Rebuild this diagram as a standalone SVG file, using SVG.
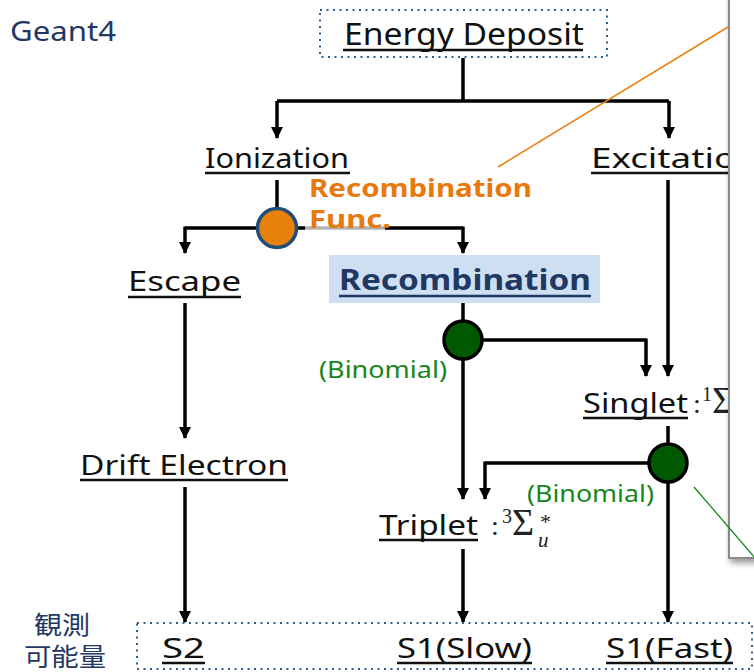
<svg xmlns="http://www.w3.org/2000/svg" width="754" height="672" viewBox="0 0 754 672">
<defs>
<style>
.t{font-family:"Noto Sans","Liberation Sans",sans-serif;font-size:28px;fill:#111}
.ul{stroke:#111;stroke-width:2.5}
.c{fill:none;stroke:#000;stroke-width:3.5}
.ca{fill:none;stroke:#000;stroke-width:3.5;marker-end:url(#ah)}
.m{font-family:"Liberation Serif","DejaVu Serif",serif;fill:#222}
.bin{font-family:"Noto Sans","Liberation Sans",sans-serif;font-size:24px;fill:#17871a}
.jp{font-family:"Noto Sans CJK JP",sans-serif;font-size:25px;fill:#1f3864}
.dot{fill:none;stroke:#2f5f8f;stroke-width:2;stroke-dasharray:2 4.5}
</style>
<marker id="ah" viewBox="0 0 12 12" refX="11" refY="6" markerWidth="12" markerHeight="12" markerUnits="userSpaceOnUse" orient="auto"><path d="M0,0 L12,6 L0,12 z" fill="#000"/></marker>
<filter id="sh" x="-10%" y="-10%" width="130%" height="130%"><feDropShadow dx="2" dy="4" stdDeviation="3" flood-color="#000" flood-opacity="0.4"/></filter>
</defs>
<rect width="754" height="672" fill="#fff"/>

<text x="10" y="41" style="font-family:'Noto Sans','Liberation Sans',sans-serif;font-size:28px;fill:#1f3864" textLength="106" lengthAdjust="spacingAndGlyphs">Geant4</text>

<g id="connectors">
<path class="c" d="M463,58 V101 M277,101 H669"/>
<path class="ca" d="M277,101 V138"/>
<path class="ca" d="M669,101 V138"/>
<path class="c" d="M277,180 V208"/>
<path class="c" d="M185,228 H463"/>
<path class="ca" d="M185,226.5 V253"/>
<path class="ca" d="M463,226.5 V253"/>
<path class="ca" d="M185,303 V438"/>
<path class="ca" d="M185,487 V622"/>
<path class="c" d="M463,303 V322"/>
<path class="c" d="M463,340 H646"/>
<path class="ca" d="M646,338.5 V376"/>
<path class="ca" d="M463,358 V499"/>
<path class="ca" d="M668,180 V376"/>
<path class="c" d="M668,426 V445"/>
<path class="c" d="M668,463 H485"/>
<path class="ca" d="M485,461.5 V499"/>
<path class="ca" d="M668,481 V622"/>
<path class="ca" d="M463,549 V622"/>
</g>

<g id="energy-deposit">
<rect class="dot" x="320" y="10" width="287" height="47"/>
<text class="t" x="344" y="45" style="font-size:31px" textLength="240" lengthAdjust="spacingAndGlyphs">Energy Deposit</text>
<line class="ul" x1="343" y1="50" x2="583" y2="50"/>
</g>

<g id="ionization">
<text class="t" x="205" y="168" textLength="144" lengthAdjust="spacingAndGlyphs">Ionization</text>
<line class="ul" x1="205" y1="173" x2="350" y2="173"/>
</g>

<g id="excitation">
<text class="t" x="591" y="168" textLength="168" lengthAdjust="spacingAndGlyphs">Excitation</text>
<line class="ul" x1="591" y1="173" x2="760" y2="173"/>
</g>

<g id="recomb-func">
<circle cx="277" cy="228" r="19.5" fill="#e8800c" stroke="#1f4e79" stroke-width="3.5"/>
<rect x="305" y="210" width="80" height="24" fill="#fff" opacity="0.7"/>
<text x="309" y="197" style="font-family:'Noto Sans','Liberation Sans',sans-serif;font-size:25px;font-weight:bold;fill:#e8790c" textLength="223" lengthAdjust="spacingAndGlyphs">Recombination</text>
<text x="309" y="228" style="font-family:'Noto Sans','Liberation Sans',sans-serif;font-size:25px;font-weight:bold;fill:#e8790c" textLength="82" lengthAdjust="spacingAndGlyphs">Func.</text>
</g>

<g id="escape">
<text class="t" x="128" y="291" textLength="113" lengthAdjust="spacingAndGlyphs">Escape</text>
<line class="ul" x1="128" y1="297" x2="241" y2="297"/>
</g>

<g id="recombination">
<rect x="329" y="255" width="271" height="48" fill="#cfdff2"/>
<text x="339" y="290" style="font-family:'Noto Sans','Liberation Sans',sans-serif;font-size:29px;font-weight:bold;fill:#1f3864" textLength="252" lengthAdjust="spacingAndGlyphs">Recombination</text>
<line x1="339" y1="296" x2="591" y2="296" stroke="#1f3864" stroke-width="2.5"/>
</g>

<g id="drift-electron">
<text class="t" x="80" y="475" textLength="208" lengthAdjust="spacingAndGlyphs">Drift Electron</text>
<line class="ul" x1="80" y1="480" x2="288" y2="480"/>
</g>

<g id="binomial-1">
<circle cx="463" cy="340" r="19" fill="#005800" stroke="#000" stroke-width="3.5"/>
<text class="bin" x="319" y="378" textLength="128" lengthAdjust="spacingAndGlyphs">(Binomial)</text>
</g>

<g id="singlet">
<text class="t" x="583" y="413" textLength="105" lengthAdjust="spacingAndGlyphs">Singlet</text>
<line class="ul" x1="583" y1="418" x2="688" y2="418"/>
<text class="m" x="693" y="413" style="font-size:28px">:</text>
<text class="m" x="702" y="401" style="font-size:20px">1</text>
<text class="m" x="712" y="413" style="font-size:38px">Σ</text>
</g>

<g id="binomial-2">
<circle cx="668" cy="463" r="19" fill="#005800" stroke="#000" stroke-width="3.5"/>
<text class="bin" x="527" y="502" textLength="127" lengthAdjust="spacingAndGlyphs">(Binomial)</text>
</g>

<g id="triplet">
<text class="t" x="379" y="535" textLength="99" lengthAdjust="spacingAndGlyphs">Triplet</text>
<line class="ul" x1="379" y1="540" x2="478" y2="540"/>
<text class="m" x="491" y="535" style="font-size:28px">:</text>
<text class="m" x="502" y="523" style="font-size:20px">3</text>
<text class="m" x="512" y="535" style="font-size:38px">Σ</text>
<text class="m" x="540" y="529" style="font-size:22px">*</text>
<text class="m" x="538" y="547" style="font-size:21px;font-style:italic">u</text>
</g>

<g id="observables">
<rect class="dot" x="137" y="623" width="615" height="46"/>
<text class="jp" x="34" y="634" textLength="56" lengthAdjust="spacingAndGlyphs">観測</text>
<text class="jp" x="24" y="666" textLength="82" lengthAdjust="spacingAndGlyphs">可能量</text>
</g>
<g id="s2">
<text class="t" x="162" y="658" textLength="43" lengthAdjust="spacingAndGlyphs">S2</text>
<line class="ul" x1="162" y1="663" x2="205" y2="663"/>
</g>
<g id="s1-slow">
<text class="t" x="397" y="658" textLength="135" lengthAdjust="spacingAndGlyphs">S1(Slow)</text>
<line class="ul" x1="397" y1="663" x2="532" y2="663"/>
</g>
<g id="s1-fast">
<text class="t" x="606" y="658" textLength="127" lengthAdjust="spacingAndGlyphs">S1(Fast)</text>
<line class="ul" x1="606" y1="663" x2="733" y2="663"/>
</g>

<g id="overlay">
<rect x="729" y="-10" width="40" height="568" fill="#fff" stroke="#8a8a8a" stroke-width="2" filter="url(#sh)"/>
</g>
<line x1="498" y1="167" x2="728" y2="27" stroke="#e8800c" stroke-width="1.5"/>
<line x1="694" y1="487" x2="756" y2="559" stroke="#17871a" stroke-width="1.3"/>
</svg>
